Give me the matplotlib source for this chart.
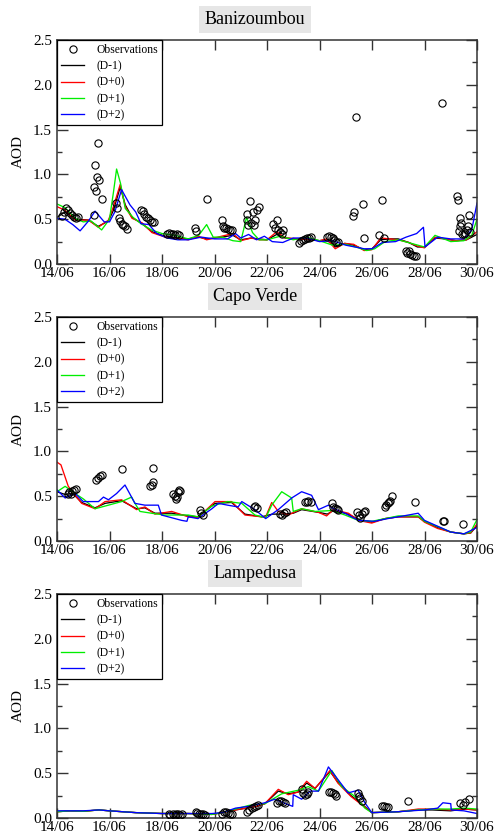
import matplotlib
matplotlib.use("Agg")
import matplotlib.pyplot as plt
from matplotlib.ticker import MultipleLocator

plt.rcParams['font.family'] = ['Liberation Serif', 'DejaVu Serif']

# ---------------- data (days since 14/06) ----------------
xtick_pos = [0, 2, 4, 6, 8, 10, 12, 14, 16]
xtick_labels = ["14/06", "16/06", "18/06", "20/06", "22/06", "24/06", "26/06", "28/06", "30/06"]
stations = ["Banizoumbou", "Capo Verde", "Lampedusa"]
series_labels = ["(D-1)", "(D+0)", "(D+1)", "(D+2)"]
series_colors = ["#000000", "#ff0000", "#00ee00", "#0000ff"]

# Banizoumbou
bz_obs_t = [0.20, 0.28, 0.35, 0.42, 0.50, 0.58, 0.65, 0.72, 0.80,
            1.40, 1.41, 1.45, 1.49, 1.51, 1.55, 1.61, 1.70,
            2.25, 2.30, 2.35, 2.40, 2.46, 2.53, 2.60, 2.68,
            3.20, 3.27, 3.33, 3.40, 3.47, 3.55, 3.62, 3.68,
            4.20, 4.28, 4.35, 4.42, 4.50, 4.58, 4.65,
            5.25, 5.30, 5.70,
            6.27, 6.32, 6.38, 6.45, 6.52, 6.60, 6.68,
            7.22, 7.25, 7.28, 7.35, 7.40, 7.45, 7.50, 7.55, 7.60, 7.70,
            8.22, 8.30, 8.37, 8.42, 8.50, 8.56, 8.62,
            9.22, 9.30, 9.38, 9.45, 9.52, 9.60, 9.68,
            10.30, 10.37, 10.44, 10.50, 10.57, 10.64, 10.72,
            11.26, 11.33, 11.38, 11.67, 11.71,
            12.28, 12.37, 12.45,
            13.30, 13.35, 13.40, 13.45, 13.52, 13.60, 13.68,
            14.65,
            15.22, 15.26, 15.30, 15.34, 15.37, 15.40, 15.44, 15.50, 15.55, 15.60, 15.65, 15.71, 15.75]
bz_obs_v = [0.54, 0.58, 0.62, 0.60, 0.57, 0.55, 0.53, 0.51, 0.52,
            0.55, 0.86, 1.10, 0.81, 0.97, 1.35, 0.94, 0.73,
            0.68, 0.62, 0.51, 0.48, 0.45, 0.43, 0.42, 0.39,
            0.60, 0.59, 0.56, 0.53, 0.51, 0.49, 0.47, 0.47,
            0.34, 0.35, 0.33, 0.34, 0.32, 0.33, 0.32,
            0.40, 0.37, 0.73,
            0.49, 0.42, 0.40, 0.40, 0.39, 0.38, 0.38,
            0.49, 0.56, 0.43, 0.70, 0.46, 0.58, 0.44, 0.49, 0.60, 0.64,
            0.45, 0.40, 0.49, 0.38, 0.36, 0.34, 0.38,
            0.23, 0.26, 0.27, 0.28, 0.29, 0.29, 0.30,
            0.30, 0.31, 0.30, 0.29, 0.27, 0.25, 0.24,
            0.54, 0.58, 1.64, 0.67, 0.29,
            0.32, 0.71, 0.29,
            0.15, 0.12, 0.14, 0.11, 0.10, 0.09, 0.09,
            1.80,
            0.76, 0.71, 0.37, 0.42, 0.51, 0.46, 0.34, 0.33, 0.35, 0.38, 0.42, 0.55, 0.36]

bz_red_t = [0, 0.3, 0.7, 1.2, 1.57, 1.96, 2.15, 2.41, 2.6, 2.86, 3.24, 3.62, 4.12, 4.6, 5.0, 5.39,
            5.7, 6.0, 6.27, 6.7, 7.0, 7.4, 7.7, 8.0, 8.37, 8.7, 9.2, 9.7, 10.0, 10.27, 10.6, 10.96,
            11.3, 11.7, 12.0, 12.33, 12.7, 13.0, 13.4, 13.73, 14.0, 14.4, 14.8, 15.2, 15.6, 16.0]
bz_red_v = [0.64, 0.60, 0.49, 0.49, 0.41, 0.49, 0.64, 0.89, 0.64, 0.51, 0.46, 0.35, 0.30, 0.29, 0.27, 0.31,
            0.27, 0.29, 0.31, 0.34, 0.26, 0.29, 0.27, 0.27, 0.36, 0.29, 0.28, 0.27, 0.26, 0.28, 0.17, 0.23,
            0.22, 0.15, 0.16, 0.29, 0.28, 0.27, 0.24, 0.20, 0.18, 0.30, 0.28, 0.26, 0.27, 0.36]
bz_blk_t = bz_red_t
bz_blk_v = [0.52, 0.58, 0.50, 0.49, 0.42, 0.48, 0.60, 0.86, 0.66, 0.52, 0.45, 0.36, 0.31, 0.29, 0.28, 0.30,
            0.28, 0.29, 0.30, 0.32, 0.27, 0.29, 0.28, 0.27, 0.33, 0.29, 0.28, 0.27, 0.26, 0.27, 0.19, 0.23,
            0.21, 0.16, 0.17, 0.27, 0.28, 0.28, 0.24, 0.19, 0.19, 0.29, 0.28, 0.26, 0.27, 0.33]
bz_grn_t = [0, 0.3, 0.69, 1.0, 1.3, 1.70, 2.0, 2.15, 2.27, 2.42, 2.6, 2.9, 3.2, 3.6, 4.0, 4.5, 5.0, 5.4,
            5.7, 5.95, 6.3, 6.7, 7.0, 7.22, 7.45, 7.7, 8.0, 8.5, 9.0, 9.5, 10.0, 10.5, 11.0, 11.5, 11.8,
            12.1, 12.5, 13.0, 13.5, 14.0, 14.4, 15.0, 15.5, 15.8, 16.0]
bz_grn_v = [0.67, 0.63, 0.51, 0.47, 0.48, 0.38, 0.50, 0.80, 1.06, 0.90, 0.62, 0.52, 0.45, 0.38, 0.34, 0.32, 0.28, 0.32,
            0.44, 0.30, 0.30, 0.26, 0.25, 0.52, 0.35, 0.27, 0.27, 0.31, 0.27, 0.30, 0.26, 0.21, 0.22, 0.18, 0.15,
            0.17, 0.25, 0.27, 0.23, 0.19, 0.32, 0.25, 0.26, 0.32, 0.50]
bz_blu_t = [0, 0.3, 0.6, 0.88, 1.2, 1.45, 1.8, 2.0, 2.2, 2.46, 2.78, 3.0, 3.2, 3.5, 3.8, 4.2, 4.6, 5.0,
            5.5, 6.0, 6.5, 6.8, 7.0, 7.3, 7.6, 7.9, 8.2, 8.6, 9.0, 9.5, 10.0, 10.5, 11.0, 11.7, 12.0,
            12.4, 12.9, 13.3, 13.7, 13.96, 14.02, 14.5, 15.0, 15.5, 15.8, 16.0]
bz_blu_v = [0.51, 0.50, 0.44, 0.37, 0.48, 0.59, 0.47, 0.47, 0.58, 0.83, 0.66, 0.58, 0.45, 0.44, 0.34, 0.29, 0.27, 0.27,
            0.30, 0.28, 0.28, 0.34, 0.29, 0.33, 0.27, 0.31, 0.25, 0.24, 0.29, 0.29, 0.25, 0.26, 0.21, 0.17, 0.17,
            0.24, 0.25, 0.30, 0.34, 0.41, 0.19, 0.30, 0.28, 0.28, 0.38, 0.68]

# Capo Verde
cv_obs_t = [0.40, 0.45, 0.52, 0.58, 0.65, 0.72,
            1.49, 1.55, 1.64, 1.70,
            2.49,
            3.54, 3.60, 3.67, 3.64,
            4.43, 4.48, 4.52, 4.56, 4.60, 4.66, 4.70,
            5.45, 5.50, 5.55,
            7.50, 7.56, 7.62,
            8.50, 8.58, 8.65, 8.72,
            9.45, 9.52, 9.58, 9.66,
            10.46, 10.52, 10.58, 10.65, 10.72,
            11.42, 11.50, 11.55, 11.62, 11.68, 11.73,
            12.50, 12.55, 12.60, 12.65, 12.70, 12.75,
            13.64,
            14.70, 14.75,
            15.48]
cv_obs_v = [0.52, 0.55, 0.53, 0.56, 0.57, 0.58,
            0.68, 0.70, 0.73, 0.74,
            0.80,
            0.61, 0.63, 0.66, 0.81,
            0.52, 0.50, 0.47, 0.49, 0.55, 0.57, 0.56,
            0.35, 0.31, 0.29,
            0.38, 0.39, 0.37,
            0.30, 0.29, 0.31, 0.32,
            0.44, 0.44, 0.45, 0.44,
            0.42, 0.38, 0.37, 0.36, 0.35,
            0.32, 0.29, 0.26, 0.30, 0.32, 0.34,
            0.38, 0.40, 0.42, 0.44, 0.45, 0.50,
            0.43,
            0.22, 0.22,
            0.19]

cv_red_t = [0, 0.15, 0.43, 0.94, 1.45, 1.83, 2.46, 3.03, 3.35, 3.73, 4.37, 5.0, 5.37, 6.02, 6.65, 7.16,
            7.8, 7.95, 8.18, 8.43, 8.81, 9.32, 9.96, 10.27, 10.53, 11.1, 11.48, 11.99, 12.5, 13.0, 13.76,
            14.0, 14.5, 15.0, 15.5, 15.76, 16.0]
cv_red_v = [0.88, 0.85, 0.61, 0.42, 0.36, 0.44, 0.46, 0.35, 0.38, 0.30, 0.33, 0.27, 0.26, 0.44, 0.44, 0.29,
            0.27, 0.27, 0.43, 0.33, 0.29, 0.36, 0.32, 0.28, 0.35, 0.31, 0.23, 0.20, 0.25, 0.27, 0.27,
            0.21, 0.14, 0.10, 0.08, 0.09, 0.19]
cv_blk_t = [0, 0.3, 0.6, 0.94, 1.45, 1.83, 2.46, 3.03, 3.35, 3.73, 4.37, 5.0, 5.37, 6.02, 6.65, 7.16,
            7.8, 8.2, 8.6, 9.0, 9.32, 9.96, 10.3, 10.53, 11.1, 11.48, 11.99, 12.5, 13.0, 13.76,
            14.0, 14.5, 15.0, 15.5, 15.76, 16.0]
cv_blk_v = [0.55, 0.52, 0.53, 0.43, 0.37, 0.42, 0.45, 0.36, 0.37, 0.31, 0.31, 0.28, 0.27, 0.42, 0.43, 0.30,
            0.27, 0.30, 0.30, 0.31, 0.35, 0.32, 0.30, 0.34, 0.30, 0.24, 0.21, 0.25, 0.27, 0.27,
            0.22, 0.15, 0.10, 0.08, 0.09, 0.17]
cv_grn_t = [0, 0.31, 0.69, 1.0, 1.45, 1.96, 2.46, 2.84, 2.97, 3.16, 3.6, 4.1, 5.0, 5.37, 5.9, 6.5, 7.04,
            7.54, 7.95, 8.18, 8.56, 8.94, 9.0, 9.32, 9.83, 10.47, 10.97, 11.48, 12.0, 13.0, 13.76, 14.0,
            15.0, 15.5, 15.76, 16.0]
cv_grn_v = [0.55, 0.61, 0.53, 0.47, 0.36, 0.40, 0.44, 0.49, 0.42, 0.33, 0.31, 0.29, 0.29, 0.27, 0.39, 0.44, 0.42,
            0.29, 0.26, 0.40, 0.55, 0.48, 0.33, 0.36, 0.33, 0.34, 0.29, 0.23, 0.22, 0.28, 0.28, 0.22,
            0.10, 0.08, 0.10, 0.24]
cv_blu_t = [0, 0.31, 0.69, 1.0, 1.58, 1.77, 1.96, 2.27, 2.59, 2.97, 3.35, 3.86, 3.98, 4.75, 4.95, 5.0,
            5.37, 5.9, 6.15, 6.5, 6.9, 7.04, 7.54, 7.95, 8.43, 8.94, 9.32, 9.7, 9.96, 10.34, 10.47, 10.97,
            11.48, 12.1, 12.6, 13.2, 13.76, 14.0, 15.0, 15.5, 16.0]
cv_blu_v = [0.57, 0.48, 0.53, 0.44, 0.44, 0.49, 0.46, 0.53, 0.625, 0.42, 0.40, 0.40, 0.29, 0.23, 0.22, 0.27,
            0.25, 0.36, 0.42, 0.40, 0.38, 0.44, 0.35, 0.25, 0.35, 0.48, 0.55, 0.51, 0.35, 0.40, 0.37, 0.31,
            0.23, 0.22, 0.25, 0.28, 0.31, 0.23, 0.10, 0.08, 0.15]

# Lampedusa
la_obs_t = [4.25, 4.32, 4.40, 4.48, 4.55, 4.62, 4.70, 4.75,
            5.28, 5.35, 5.42, 5.50, 5.58, 5.65,
            6.27, 6.35, 6.42, 6.50, 6.58, 6.65,
            7.25, 7.33, 7.42, 7.50, 7.58, 7.65,
            8.37, 8.45, 8.52, 8.60, 8.68,
            9.33, 9.38, 9.45, 9.52, 9.58,
            10.37, 10.45, 10.52, 10.58, 10.64,
            11.45, 11.50, 11.55, 11.60,
            12.37, 12.45, 12.52, 12.60,
            13.38,
            15.35, 15.45, 15.55, 15.68]
la_obs_v = [0.04, 0.03, 0.04, 0.03, 0.04, 0.04, 0.03, 0.04,
            0.07, 0.06, 0.05, 0.04, 0.04, 0.03,
            0.05, 0.07, 0.07, 0.06, 0.05, 0.04,
            0.07, 0.09, 0.11, 0.12, 0.13, 0.15,
            0.17, 0.19, 0.19, 0.18, 0.17,
            0.32, 0.28, 0.26, 0.27, 0.29,
            0.29, 0.29, 0.28, 0.27, 0.25,
            0.28, 0.25, 0.22, 0.19,
            0.13, 0.13, 0.12, 0.12,
            0.19,
            0.17, 0.15, 0.18, 0.21]

la_red_t = [0, 0.5, 1.0, 1.6, 2.0, 3.0, 4.0, 5.0, 5.9, 6.3, 6.8, 7.2, 7.6, 7.92, 8.43, 8.81, 9.19, 9.51,
            9.83, 10.4, 10.7, 11.2, 11.6, 11.99, 13.0, 13.76, 14.3, 15.0, 15.5, 16.0]
la_red_v = [0.07, 0.08, 0.075, 0.09, 0.08, 0.06, 0.05, 0.05, 0.04, 0.06, 0.09, 0.11, 0.13, 0.16, 0.32, 0.26, 0.29, 0.41,
            0.33, 0.53, 0.39, 0.24, 0.15, 0.06, 0.07, 0.10, 0.10, 0.09, 0.10, 0.09]
la_blk_t = la_red_t
la_blk_v = [0.07, 0.08, 0.075, 0.09, 0.08, 0.06, 0.05, 0.05, 0.04, 0.06, 0.09, 0.11, 0.13, 0.16, 0.30, 0.27, 0.29, 0.39,
            0.33, 0.52, 0.40, 0.25, 0.16, 0.06, 0.07, 0.09, 0.09, 0.08, 0.10, 0.09]
la_grn_t = [0, 0.5, 1.0, 1.6, 2.0, 3.0, 4.0, 5.0, 5.9, 6.3, 6.8, 7.3, 7.6, 7.92, 8.56, 9.19, 9.57, 9.96,
            10.47, 10.85, 11.35, 11.73, 11.99, 13.0, 13.76, 14.3, 15.0, 15.5, 16.0]
la_grn_v = [0.07, 0.08, 0.075, 0.09, 0.08, 0.06, 0.05, 0.05, 0.04, 0.06, 0.10, 0.14, 0.15, 0.16, 0.27, 0.31, 0.35, 0.30,
            0.53, 0.35, 0.24, 0.11, 0.06, 0.07, 0.09, 0.10, 0.10, 0.11, 0.10]
la_blu_t = [0, 0.5, 1.0, 1.6, 2.0, 3.0, 4.0, 5.0, 5.9, 6.3, 6.8, 7.3, 7.6, 7.92, 8.3, 8.62, 8.98, 9.0,
            9.32, 9.64, 9.96, 10.34, 10.7, 11.09, 11.47, 11.73, 11.99, 13.0, 14.0, 14.5, 14.7, 15.0, 15.02,
            15.5, 16.0]
la_blu_v = [0.08, 0.08, 0.08, 0.09, 0.08, 0.06, 0.05, 0.05, 0.05, 0.06, 0.11, 0.13, 0.15, 0.17, 0.21, 0.17, 0.13, 0.26,
            0.21, 0.30, 0.30, 0.57, 0.43, 0.28, 0.31, 0.17, 0.06, 0.07, 0.09, 0.11, 0.17, 0.16, 0.09,
            0.08, 0.05]

panels = [
    (bz_obs_t, bz_obs_v, [(bz_blk_t, bz_blk_v), (bz_red_t, bz_red_v), (bz_grn_t, bz_grn_v), (bz_blu_t, bz_blu_v)]),
    (cv_obs_t, cv_obs_v, [(cv_blk_t, cv_blk_v), (cv_red_t, cv_red_v), (cv_grn_t, cv_grn_v), (cv_blu_t, cv_blu_v)]),
    (la_obs_t, la_obs_v, [(la_blk_t, la_blk_v), (la_red_t, la_red_v), (la_grn_t, la_grn_v), (la_blu_t, la_blu_v)]),
]

# ---------------- figure ----------------
W, H = 497, 838
fig = plt.figure(figsize=(W / 100, H / 100), dpi=100)
axes_px = [(57, 40, 477, 264), (57, 317, 477, 541), (57, 594, 477, 818)]

spine_col = "#333333"
for (x0, y0, x1, y1), name, (ot, ov, series) in zip(axes_px, stations, panels):
    ax = fig.add_axes([x0 / W, 1 - y1 / H, (x1 - x0) / W, (y1 - y0) / H])
    ax.plot(ot, ov, linestyle='none', marker='o', markersize=5.2, markerfacecolor='none',
            markeredgecolor='black', markeredgewidth=0.8, label="Observations", zorder=5)
    for (st, sv), lab, col in zip(series, series_labels, series_colors):
        ax.plot(st, sv, color=col, linewidth=0.95, label=lab)
    ax.set_xlim(0, 16)
    ax.set_ylim(0, 2.5)
    ax.set_xticks(xtick_pos)
    ax.set_xticklabels(xtick_labels)
    ax.yaxis.set_major_locator(MultipleLocator(0.5))
    ax.yaxis.set_minor_locator(MultipleLocator(0.25))
    ax.yaxis.set_major_formatter(plt.FormatStrFormatter('%.1f'))
    ax.tick_params(axis='y', which='major', direction='in', length=8, width=1.0, color=spine_col,
                   left=True, right=True, labelsize=11, pad=3.5)
    ax.tick_params(axis='y', which='minor', direction='in', length=3.8, width=1.0, color=spine_col,
                   left=True, right=True)
    ax.tick_params(axis='x', which='major', direction='in', length=7, width=1.0, color=spine_col,
                   top=True, bottom=True, labelsize=11, pad=2)
    for s in ax.spines.values():
        s.set_linewidth(1.1)
        s.set_color(spine_col)
    ax.set_ylabel("AOD", fontsize=11, labelpad=6)
    leg = ax.legend(loc='upper left', bbox_to_anchor=(0, 1), borderaxespad=0, fontsize=8.4,
                    frameon=True, fancybox=False, edgecolor='black', framealpha=1,
                    handlelength=2.0, handletextpad=1.0, labelspacing=0.37, borderpad=0.35,
                    numpoints=1)
    leg.get_frame().set_linewidth(0.9)
    fig.text(255 / W, 1 - (y0 - 20.5) / H, name, ha='center', va='center', fontsize=13,
             bbox=dict(facecolor='#e6e6e6', edgecolor='none', pad=3.8))

fig.savefig("out.png", dpi=100)
